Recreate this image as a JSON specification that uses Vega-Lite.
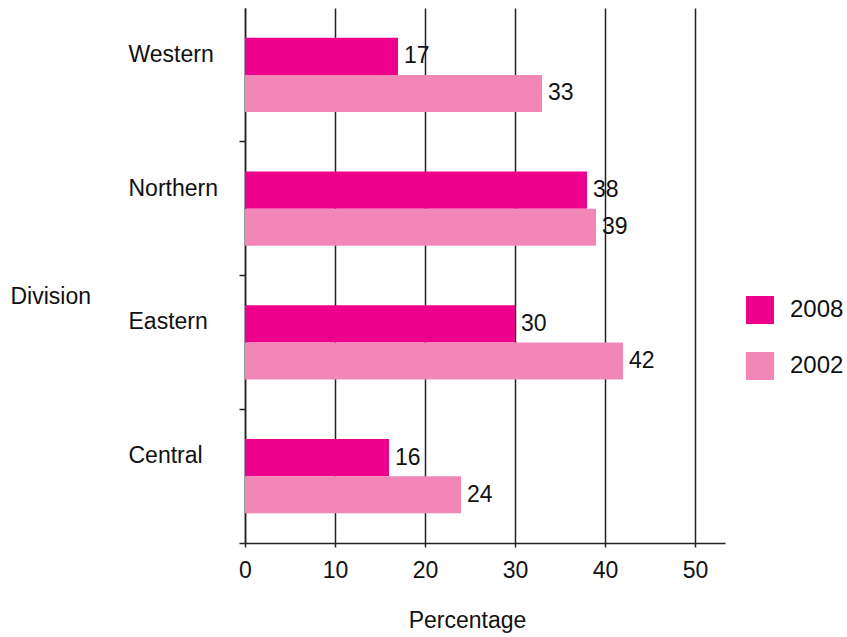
{
  "$schema": "https://vega.github.io/schema/vega-lite/v6.json",
  "autosize": "none",
  "width": 480,
  "height": 535,
  "padding": {"left": 245, "top": 8, "right": 122, "bottom": 94},
  "background": "white",
  "config": {
    "view": {"stroke": null},
    "font": "Liberation Sans",
    "axis": {"labelFont": "Liberation Sans", "titleFont": "Liberation Sans", "labelColor": "#111", "titleColor": "#111", "titleFontWeight": "normal"},
    "legend": {"labelFont": "Liberation Sans"}
  },
  "data": {
    "values": [
      {"division": "Western", "year": "2008", "pct": 17},
      {"division": "Western", "year": "2002", "pct": 33},
      {"division": "Northern", "year": "2008", "pct": 38},
      {"division": "Northern", "year": "2002", "pct": 39},
      {"division": "Eastern", "year": "2008", "pct": 30},
      {"division": "Eastern", "year": "2002", "pct": 42},
      {"division": "Central", "year": "2008", "pct": 16},
      {"division": "Central", "year": "2002", "pct": 24}
    ]
  },
  "encoding": {
    "y": {
      "field": "division", "type": "nominal",
      "sort": ["Western", "Northern", "Eastern", "Central"],
      "scale": {"paddingInner": 0, "paddingOuter": 0},
      "axis": {
        "title": "Division", "titleAngle": 0, "titleAlign": "left", "titleBaseline": "middle",
        "titleX": -235, "titleY": 288, "titleFontSize": 23,
        "labelFontSize": 23, "labelAlign": "left", "labelBaseline": "middle",
        "labelPadding": 111, "labelOffset": -20, "bandPosition": 1,
        "tickSize": 6, "tickColor": "#222", "tickWidth": 1.5,
        "domainColor": "#222", "domainWidth": 1.5, "grid": false
      }
    },
    "yOffset": {
      "field": "year", "type": "nominal", "sort": ["2008", "2002"],
      "scale": {"paddingInner": 0, "paddingOuter": 0.8}
    },
    "x": {
      "field": "pct", "type": "quantitative",
      "scale": {"domain": [0, 53.33], "nice": false},
      "axis": {
        "title": "Percentage", "titleFontSize": 23, "titlePadding": 27, "titleX": 222,
        "labelFontSize": 23, "labelPadding": 12, "labelFlush": false, "values": [0, 10, 20, 30, 40, 50],
        "tickSize": 4, "tickColor": "#222", "tickWidth": 1.5,
        "domainColor": "#222", "domainWidth": 1.5,
        "grid": true, "gridColor": "#222", "gridWidth": 1.5
      }
    }
  },
  "layer": [
    {
      "mark": {"type": "bar"},
      "encoding": {
        "color": {
          "field": "year", "type": "nominal", "sort": ["2008", "2002"],
          "scale": {"domain": ["2008", "2002"], "range": ["#EC008C", "#F287B7"]},
          "legend": {
            "title": null, "orient": "none", "legendX": 501, "legendY": 288,
            "symbolType": "square", "symbolSize": 784, "symbolStrokeWidth": 0,
            "symbolOpacity": 1, "labelFontSize": 24, "labelOffset": 16,
            "rowPadding": 28, "labelColor": "#111"
          }
        }
      }
    },
    {
      "mark": {"type": "text", "align": "left", "baseline": "middle", "dx": 6, "fontSize": 23, "color": "#111"},
      "encoding": {"text": {"field": "pct", "type": "quantitative"}}
    }
  ]
}
